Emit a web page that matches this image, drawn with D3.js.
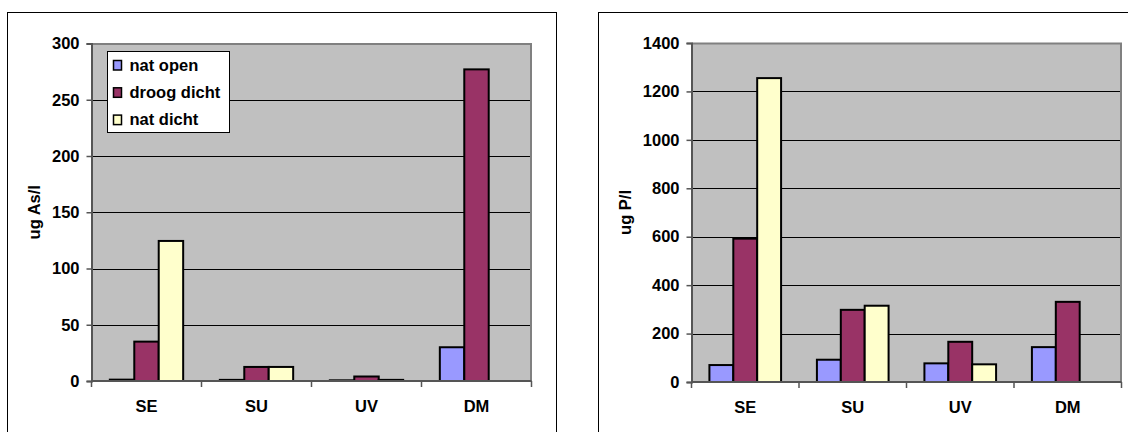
<!DOCTYPE html>
<html>
<head>
<meta charset="utf-8">
<script src="https://cdn.jsdelivr.net/npm/d3@7/dist/d3.min.js"></script>
<style>
  html, body { margin: 0; padding: 0; background: #fff; }
  svg { display: block; font-family: "Liberation Sans", Arial, sans-serif; font-weight: bold; }
</style>
</head>
<body>
<svg id="chart" width="1128" height="432"></svg>
<script>
// Sampling sites and deposition series
const categories = ["SE", "SU", "UV", "DM"];
const series = ["nat open", "droog dicht", "nat dicht"];
const seriesColors = ["#9999FF", "#993366", "#FFFFCC"];

// Arsenic (ug As/l) per site, one array per series
const arsenicNatOpen   = [1.2, 1.0, 0.6, 30];
const arsenicDroogDicht = [35, 12.5, 4, 277];
const arsenicNatDicht  = [124.5, 12.5, 1.0, null];
const arsenicTicks = [0, 50, 100, 150, 200, 250, 300];

// Phosphorus (ug P/l) per site, one array per series
const phosphorusNatOpen   = [70, 92, 77, 144];
const phosphorusDroogDicht = [592, 298, 166, 331];
const phosphorusNatDicht  = [1255, 315, 73, null];
const phosphorusTicks = [0, 200, 400, 600, 800, 1000, 1200, 1400];

const svg = d3.select("#chart");

function drawPanel(opts) {
  const g = svg.append("g");
  // outer chart frame (runs past the bottom/right of the window)
  g.append("rect")
    .attr("x", opts.frame[0] + 0.5).attr("y", opts.frame[1] + 0.5)
    .attr("width", opts.frame[2]).attr("height", opts.frame[3])
    .attr("fill", "#fff").attr("stroke", "#000").attr("stroke-width", 1);

  const p = opts.plot; // left, top, right, bottom
  const y = d3.scaleLinear().domain([0, d3.max(opts.ticks)]).range([p.bottom, p.top]);
  const x0 = d3.scaleBand().domain(categories).range([p.left, p.right]).paddingInner(0).paddingOuter(0);
  const x1 = d3.scaleBand().domain(series).range([0, x0.bandwidth()]).paddingInner(0).paddingOuter(0.75);

  // plot background
  g.append("rect")
    .attr("x", p.left).attr("y", p.top)
    .attr("width", p.right - p.left).attr("height", p.bottom - p.top)
    .attr("fill", "#C0C0C0");

  // horizontal gridlines
  g.append("g").selectAll("line")
    .data(opts.ticks.filter(t => t > 0 && t < d3.max(opts.ticks)))
    .join("line")
    .attr("x1", p.left).attr("x2", p.right)
    .attr("y1", d => Math.round(y(d)) + 0.5).attr("y2", d => Math.round(y(d)) + 0.5)
    .attr("stroke", "#000").attr("stroke-width", 1);

  // plot border on top and right
  g.append("path")
    .attr("d", `M${p.left},${p.top + 0.5}H${p.right - 0.5}V${p.bottom}`)
    .attr("fill", "none").attr("stroke", "#808080").attr("stroke-width", 2);

  // bars
  const rows = categories.map((c, i) => ({
    cat: c,
    vals: opts.values.map((arr, s) => ({ s: series[s], color: seriesColors[s], v: arr[i] }))
  }));
  g.append("g").selectAll("g")
    .data(rows)
    .join("g")
    .attr("transform", d => `translate(${x0(d.cat)},0)`)
    .selectAll("rect")
    .data(d => d.vals.filter(v => v.v != null))
    .join("rect")
    .attr("x", d => x1(d.s))
    .attr("y", d => y(d.v))
    .attr("width", x1.bandwidth())
    .attr("height", d => y(0) - y(d.v))
    .attr("fill", d => d.color)
    .attr("stroke", "#000")
    .attr("stroke-width", 2);

  // y axis
  const yAxis = d3.axisLeft(y).tickValues(opts.ticks).tickSize(5).tickPadding(7).tickFormat(d3.format("d"));
  const ya = g.append("g").attr("transform", `translate(${p.left},0)`).call(yAxis);
  ya.select(".domain").attr("stroke", "#555").attr("stroke-width", 2);
  ya.selectAll(".tick line").attr("stroke", "#555").attr("stroke-width", 1.5);
  ya.selectAll(".tick text").attr("fill", "#000").attr("font-size", 16.5)
    .attr("font-weight", "bold").attr("font-family", "Liberation Sans, Arial, sans-serif");

  // x axis: ticks sit on category boundaries
  const bounds = categories.map(c => x0(c)).concat([p.right]);
  const xa = g.append("g");
  xa.append("line")
    .attr("x1", p.left).attr("x2", p.right)
    .attr("y1", p.bottom).attr("y2", p.bottom)
    .attr("stroke", "#555").attr("stroke-width", 2);
  xa.selectAll("line.xt").data(bounds).join("line").attr("class", "xt")
    .attr("x1", d => d).attr("x2", d => d)
    .attr("y1", p.bottom).attr("y2", p.bottom + 6)
    .attr("stroke", "#555").attr("stroke-width", 1.5);
  xa.selectAll("text").data(categories).join("text")
    .attr("x", d => x0(d) + x0.bandwidth() / 2)
    .attr("y", p.bottom + 31)
    .attr("text-anchor", "middle")
    .attr("font-size", 16.5)
    .text(d => d);

  // y axis title
  g.append("text")
    .attr("transform", `translate(${opts.titleX},${(p.top + p.bottom) / 2}) rotate(-90)`)
    .attr("text-anchor", "middle")
    .attr("dy", "0.35em")
    .attr("font-size", 16.5)
    .text(opts.title);

  return { g, x0, y };
}

drawPanel({
  frame: [7, 12, 549, 460],
  plot: { left: 91.5, top: 43.5, right: 531.5, bottom: 381 },
  ticks: arsenicTicks,
  values: [arsenicNatOpen, arsenicDroogDicht, arsenicNatDicht],
  title: "ug As/l",
  titleX: 34
});

drawPanel({
  frame: [598, 12, 560, 460],
  plot: { left: 691.5, top: 43, right: 1121.5, bottom: 382 },
  ticks: phosphorusTicks,
  values: [phosphorusNatOpen, phosphorusDroogDicht, phosphorusNatDicht],
  title: "ug P/l",
  titleX: 625
});

// legend (left panel)
const legend = svg.append("g").attr("transform", "translate(107.5,51.5)");
legend.append("rect")
  .attr("width", 122).attr("height", 81)
  .attr("fill", "#fff").attr("stroke", "#000").attr("stroke-width", 1);
const items = legend.selectAll("g.item")
  .data(series)
  .join("g").attr("class", "item")
  .attr("transform", (d, i) => `translate(6,${9 + i * 27.3})`);
items.append("rect")
  .attr("width", 8).attr("height", 9.5)
  .attr("fill", (d, i) => seriesColors[i])
  .attr("stroke", "#000").attr("stroke-width", 1.5);
items.append("text")
  .attr("x", 16).attr("y", 10)
  .attr("font-size", 16.5)
  .text(d => d);
</script>
</body>
</html>
